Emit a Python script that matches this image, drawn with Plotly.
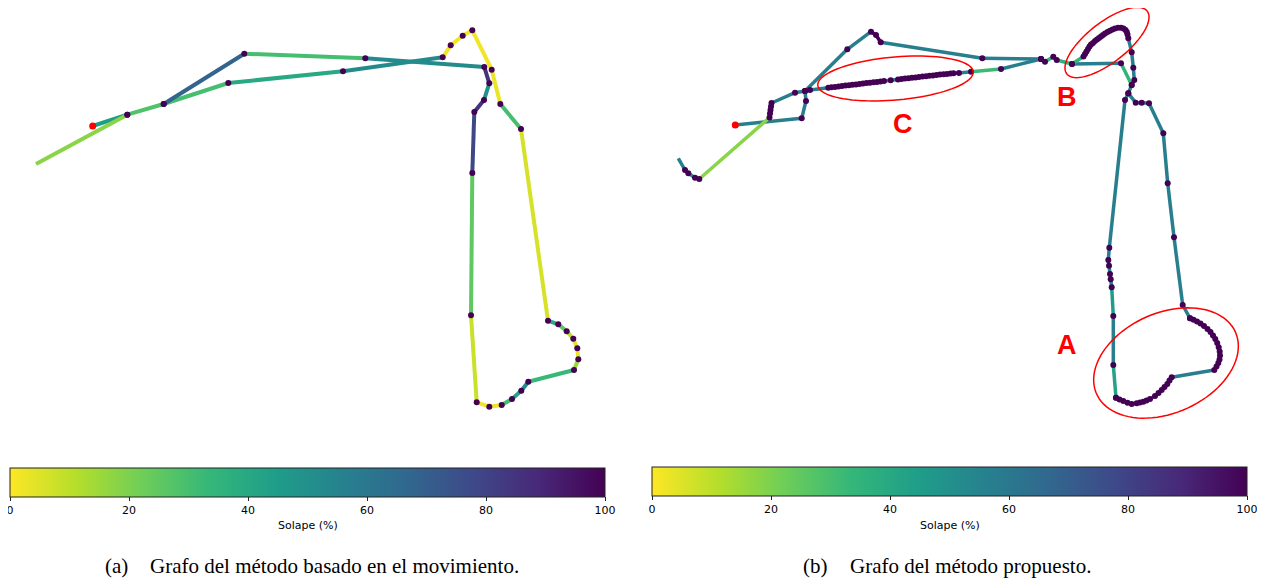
import numpy as np
import plotly.graph_objects as go
from plotly.colors import sample_colorscale

W, H = 1265, 580
OFF = 8  # the page body margin shifts the figure by this many px

# ---------------- DATA (node positions, overlap % per edge) -------------
# Panel (a): motion-based graph
A_PATH_X = [
    [92.7, 127.3, 163.7, 228.3, 343.0, 442.7, 450.7, 462.7, 472.3, 491.7, 500.3, 521.0, 548.0,
     558.3, 566.7, 573.3, 577.3, 578.3, 574.0, 528.3, 521.3, 512.0, 501.7, 489.3, 476.7, 471.0,
     472.3, 474.3, 484.0, 489.3, 484.3, 365.3, 244.3, 163.7],
    [36.0, 127.3],
]
A_PATH_Y = [
    [126.0, 114.7, 104.0, 83.0, 71.3, 57.3, 45.3, 35.7, 30.3, 69.7, 104.0, 129.0, 320.7,
     324.3, 331.3, 338.7, 348.3, 359.3, 370.0, 381.7, 390.7, 399.0, 405.0, 406.7, 402.3, 315.3,
     173.0, 112.0, 100.0, 83.3, 67.0, 58.3, 53.7, 104.0],
    [164.0, 114.7],
]
A_OVERLAP = [
    [45, 28, 30, 40, 52, 2, 2, 2, 2, 3, 30, 6, 40, 25, 10, 4, 3, 15, 33, 52, 42, 30, 3, 2, 8,
     25, 78, 85, 50, 85, 52, 30, 68],
    [18],
]
A_DOT = [
    [0] + [1] * 33,
    [0, 1],
]
A_START = (92.7, 126.0)

# Panel (b): proposed method graph
B_PATH_X = [
    [735.3, 801.7, 806.0, 805.0, 810.0,
     828.3, 831.5, 835.0, 838.5, 842.0, 845.5, 849.0, 852.5, 856.0, 859.5, 863.0, 866.5, 870.0,
     873.5, 877.0, 880.5, 884.0,
     890.7,
     898.0, 901.5, 905.0, 908.5, 912.0, 915.5, 919.0, 922.5, 926.0, 929.5, 933.0, 936.5, 940.0,
     943.5, 947.0, 950.5, 953.5,
     959.0, 971.0, 1001.0, 1041.0],
    [1041.0, 1045.0, 1053.3, 1056.7, 1072.0, 1121.0, 1131.7, 1128.3, 1135.7, 1141.7, 1149.0,
     1163.3, 1167.7, 1174.0, 1182.7, 1190.0],
    [1190.0, 1193.5, 1197.0, 1200.5, 1204.0, 1207.5, 1210.5, 1213.0, 1215.3, 1217.2, 1218.7,
     1219.7, 1220.0, 1219.5, 1218.3, 1216.5, 1214.3,
     1171.7, 1169.5, 1167.3, 1164.5, 1161.7, 1158.5, 1155.0, 1150.0, 1146.5, 1143.3, 1140.0,
     1136.7, 1131.7, 1127.5, 1123.3, 1119.5, 1116.0],
    [1116.0, 1113.3, 1113.3, 1111.7, 1110.7, 1110.0, 1109.0, 1108.3, 1109.3, 1125.0, 1128.3],
    [678.3, 685.0, 688.3, 695.0, 699.3, 769.5, 770.0, 770.5, 771.0, 771.5, 795.0, 805.0],
    [805.0, 847.3, 871.0, 876.0, 880.7, 982.3, 1041.0],
    [1072.0,
     1083.5, 1085.0, 1086.5, 1088.0, 1089.5, 1091.0, 1093.0, 1095.0, 1097.0, 1099.0, 1101.0,
     1103.0, 1105.0, 1107.5, 1110.0, 1112.5, 1115.0, 1118.0, 1121.0, 1123.5, 1125.5, 1126.8,
     1127.5, 1128.3,
     1131.7, 1133.3, 1134.3, 1131.7],
]
B_PATH_Y = [
    [125.0, 118.3, 101.0, 91.0, 90.0,
     87.7, 87.3, 86.9, 86.5, 86.1, 85.6, 85.2, 84.8, 84.4, 84.0, 83.5, 83.1, 82.7,
     82.3, 81.9, 81.4, 81.0,
     80.2,
     79.4, 79.0, 78.6, 78.2, 77.8, 77.4, 77.0, 76.6, 76.2, 75.8, 75.4, 75.0, 74.6,
     74.2, 73.9, 73.6, 73.3,
     73.0, 71.7, 69.0, 59.0],
    [59.0, 61.7, 56.7, 60.0, 64.0, 63.3, 85.0, 93.3, 102.7, 102.7, 103.3,
     133.3, 183.3, 237.3, 305.0, 318.3],
    [318.3, 319.8, 321.5, 323.5, 326.0, 329.0, 332.0, 335.5, 339.0, 343.0, 347.3,
     351.5, 355.5, 359.5, 363.0, 366.5, 370.0,
     377.3, 380.5, 384.0, 387.0, 390.0, 393.0, 396.0, 399.0, 400.5, 401.7, 402.5,
     403.3, 404.0, 402.7, 401.0, 399.5, 397.7],
    [397.7, 365.0, 316.0, 287.3, 279.3, 274.0, 265.7, 260.0, 247.7, 100.0, 93.3],
    [158.3, 170.0, 173.3, 177.7, 179.0, 117.5, 113.5, 110.0, 106.5, 103.0, 92.7, 91.0],
    [91.0, 49.3, 31.7, 35.0, 42.3, 58.3, 59.0],
    [64.0,
     56.5, 54.0, 51.5, 49.0, 46.5, 44.5, 43.0, 41.0, 39.5, 38.0, 36.5,
     35.0, 33.5, 32.0, 30.7, 29.5, 28.5, 27.7, 27.8, 28.5, 30.0, 32.0,
     34.5, 38.3,
     52.3, 67.7, 80.0, 85.0],
]
B_OVERLAP = [
    [57, 57, 57, 100, 57]
    + [100] * 16 + [57, 57] + [100] * 16
    + [57, 57, 32, 57],
    [100, 35, 100, 35, 57, 35, 57, 57, 57, 57, 57, 57, 57, 57, 57],
    [100] * 16 + [57, 57, 100, 100, 100, 100, 100, 45, 100, 100, 100, 100, 30, 100, 100, 100, 100],
    [42, 57, 45, 57, 57, 57, 57, 57, 57, 57],
    [57, 100, 50, 100, 18, 100, 100, 100, 100, 57, 57],
    [57, 57, 100, 100, 57, 57],
    [35] + [100] * 23 + [57, 57, 57, 100],
]
B_DOT = [
    [0] + [1] * 43,
    [1] * 16,
    [1] * 34,
    [1] * 11,
    [0] + [1] * 11,
    [1] * 7,
    [1] * 29,
]
B_START = (735.3, 125.0)

TICKS = [0, 20, 40, 60, 80, 100]
CB_TITLE = "Solape (%)"
CAPTION_A = ("(a)", "Grafo del método basado en el movimiento.")
CAPTION_B = ("(b)", "Grafo del método propuesto.")
REGION_LABELS = ["A", "B", "C"]
REGION_LABEL_X = [1067, 1067, 903]
REGION_LABEL_Y = [345, 97, 124]

# ---------------- FIGURE ----------------
fig = go.Figure()


def add_panel(pxs, pys, ovs, dots, start, xa, ya, lw):
    for xs, ys, ov in zip(pxs, pys, ovs):
        for i, v in enumerate(ov):
            col = sample_colorscale("Viridis", [1 - v / 100.0])[0]
            fig.add_trace(go.Scatter(
                x=[xs[i], xs[i + 1]], y=[ys[i], ys[i + 1]], mode="lines",
                line=dict(color=col, width=lw), xaxis=xa, yaxis=ya,
                hoverinfo="skip", showlegend=False))
    dx, dy = [], []
    for xs, ys, ds in zip(pxs, pys, dots):
        for x, y, d in zip(xs, ys, ds):
            if d:
                dx.append(x)
                dy.append(y)
    fig.add_trace(go.Scatter(x=dx, y=dy, mode="markers",
                             marker=dict(color="#440154", size=6, line=dict(width=0)),
                             xaxis=xa, yaxis=ya, hoverinfo="skip", showlegend=False))
    fig.add_trace(go.Scatter(x=[start[0]], y=[start[1]], mode="markers",
                             marker=dict(color="#ff0000", size=7, line=dict(width=0)),
                             xaxis=xa, yaxis=ya, hoverinfo="skip", showlegend=False))


add_panel(A_PATH_X, A_PATH_Y, A_OVERLAP, A_DOT, A_START, "x", "y", 4)
add_panel(B_PATH_X, B_PATH_Y, B_OVERLAP, B_DOT, B_START, "x2", "y2", 3.5)

# colorbar carriers
fig.add_trace(go.Scatter(x=[None], y=[None], mode="markers",
                         marker=dict(color=[0], coloraxis="coloraxis"),
                         xaxis="x", yaxis="y", showlegend=False, hoverinfo="skip"))
fig.add_trace(go.Scatter(x=[None], y=[None], mode="markers",
                         marker=dict(color=[0], coloraxis="coloraxis2"),
                         xaxis="x2", yaxis="y2", showlegend=False, hoverinfo="skip"))


def px_x(x):
    return (x - OFF) / W


def px_y(y):
    return 1 - (y - OFF) / H


def cbar(x0, x1, ytop):
    return dict(
        orientation="h", x=px_x((x0 + x1) / 2), xanchor="center",
        len=(x1 - x0) / W, lenmode="fraction", thickness=29, thicknessmode="pixels",
        y=px_y(ytop), yanchor="top", xpad=0, ypad=0,
        outlinewidth=1, outlinecolor="#222222",
        tickmode="array", tickvals=TICKS, ticktext=[str(t) for t in TICKS],
        ticks="outside", ticklen=4, tickwidth=1, tickcolor="#222222",
        ticklabeloverflow="allow",
        tickfont=dict(family="DejaVu Sans", size=11, color="#000000"),
    )


def ellipse_path(cx, cy, a, b, ang_deg, n=90):
    t = np.linspace(0, 2 * np.pi, n)
    ph = np.deg2rad(ang_deg)
    xs = cx + a * np.cos(t) * np.cos(ph) - b * np.sin(t) * np.sin(ph)
    ys = cy + a * np.cos(t) * np.sin(ph) + b * np.sin(t) * np.cos(ph)
    return "M " + " L ".join(f"{x:.2f},{y:.2f}" for x, y in zip(xs, ys)) + " Z"


shapes = []
for (cx, cy, a, b, ang) in [(1166, 363, 76, 50, -24), (1107, 42.5, 51, 20, -38), (895.5, 78.5, 78, 21.5, -5)]:
    shapes.append(dict(type="path", xref="x2", yref="y2", path=ellipse_path(cx, cy, a, b, ang),
                       line=dict(color="#ff0000", width=1.5), fillcolor="rgba(0,0,0,0)"))

annotations = []
for lab, lx, ly in zip(REGION_LABELS, REGION_LABEL_X, REGION_LABEL_Y):
    annotations.append(dict(text=f"<b>{lab}</b>", x=lx, y=ly, xref="x2", yref="y2",
                            showarrow=False, xanchor="center", yanchor="middle",
                            font=dict(family="Liberation Sans", size=27, color="#ff0000")))

# colorbar titles
for cxm in [(10 + 605) / 2, (652 + 1247) / 2]:
    annotations.append(dict(text=CB_TITLE, x=px_x(cxm), y=px_y(525), xref="paper", yref="paper",
                            xanchor="center", yanchor="middle", showarrow=False,
                            font=dict(family="DejaVu Sans", size=11, color="#000000")))

cap_font = dict(family="Liberation Serif", size=21, color="#000000")
for (tag, txt), xtag, xtxt in [(CAPTION_A, 130, 148), (CAPTION_B, 830, 848)]:
    annotations.append(dict(text=tag, x=px_x(xtag), y=px_y(566), xref="paper", yref="paper",
                            xanchor="right", yanchor="middle", showarrow=False, font=cap_font))
    annotations.append(dict(text=txt, x=px_x(xtxt), y=px_y(566), xref="paper", yref="paper",
                            xanchor="left", yanchor="middle", showarrow=False, font=cap_font))

fig.update_layout(
    width=W, height=H, margin=dict(l=0, r=0, t=0, b=0),
    paper_bgcolor="white", plot_bgcolor="white",
    xaxis=dict(domain=[0, 0.5], range=[OFF, W / 2 + OFF], visible=False, fixedrange=True),
    yaxis=dict(domain=[0, 1], range=[H + OFF, OFF], visible=False, fixedrange=True),
    xaxis2=dict(domain=[0.5, 1], range=[W / 2 + OFF, W + OFF], visible=False, anchor="y2",
                fixedrange=True),
    yaxis2=dict(domain=[0, 1], range=[H + OFF, OFF], visible=False, anchor="x2", fixedrange=True),
    coloraxis=dict(colorscale="Viridis", reversescale=True, cmin=0, cmax=100,
                   colorbar=cbar(10, 605, 468)),
    coloraxis2=dict(colorscale="Viridis", reversescale=True, cmin=0, cmax=100,
                    colorbar=cbar(652, 1247, 467)),
    shapes=shapes, annotations=annotations, showlegend=False,
)

fig.write_html("out.html")
